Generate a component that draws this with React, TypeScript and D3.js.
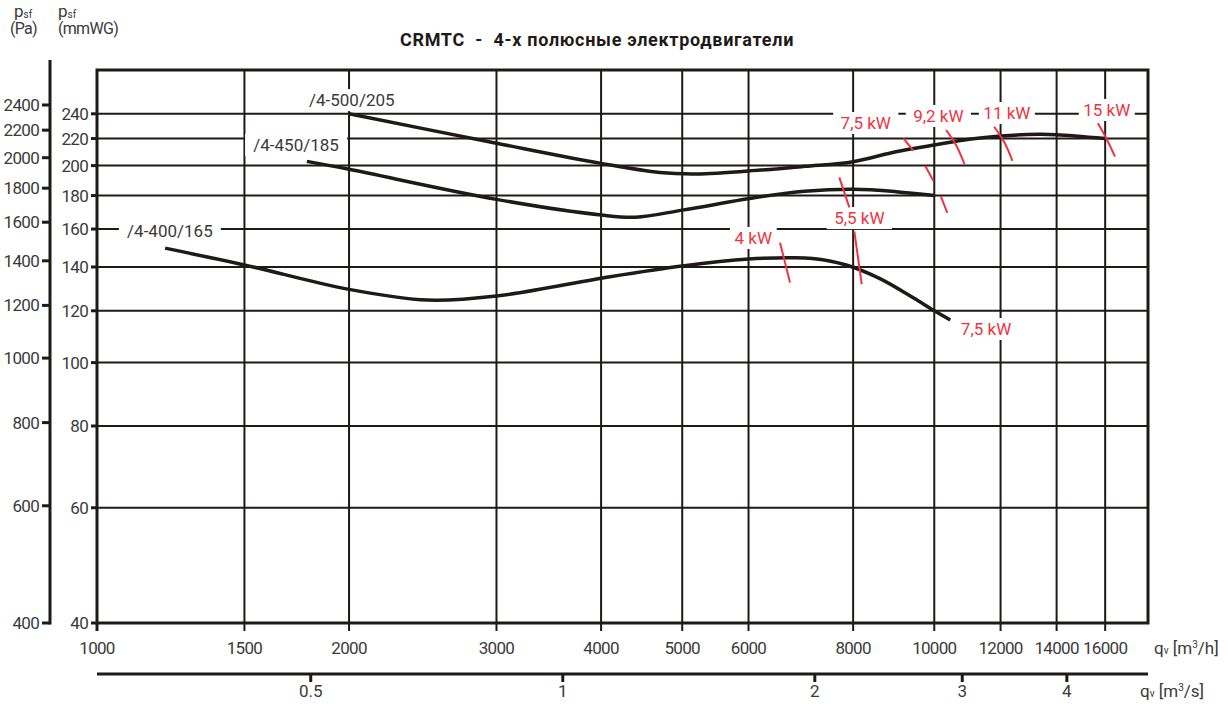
import React from "react";
import * as d3 from "d3";

const W = 1228;
const H = 704;

// axis ticks
const qTicks = [1000, 1500, 2000, 3000, 4000, 5000, 6000, 8000, 10000, 12000, 14000, 16000];
const qsTicks = [0.5, 1, 2, 3, 4];
const mmTicks = [40, 60, 80, 100, 120, 140, 160, 180, 200, 220, 240];
const paTicks = [400, 600, 800, 1000, 1200, 1400, 1600, 1800, 2000, 2200, 2400];

type Pt = [number, number]; // [m3/h, mmWG]

// fan curves
const curve400: Pt[] = [
    [1206, 149.6], [1500, 141], [2000, 129.4], [2480, 124.6], [3000, 126.4], [4100, 135.3],
    [5000, 140.5], [6000, 144], [6500, 144.5], [7150, 144.3], [7850, 141], [8600, 134.5],
    [9450, 125.5], [10000, 120], [10450, 116.2],
];
const curve450: Pt[] = [
    [1781, 203], [2000, 197.4], [3000, 177.6], [4000, 168.1], [4400, 166.8], [5000, 171],
    [6200, 179.2], [7000, 182.7], [8000, 184], [9000, 182.5], [10000, 180],
];
const curve500: Pt[] = [
    [2000, 240], [3000, 216.4], [4000, 201.6], [4700, 195.2], [5200, 194.2], [6200, 196.9],
    [7000, 199.5], [8000, 202.8], [9000, 210], [10000, 215], [11000, 219.4], [12000, 222],
    [13300, 223.3], [14000, 223], [16000, 220],
];

const curveNames = ["/4-400/165", "/4-450/185", "/4-500/205"];
const curveLabelPos: Pt[] = [[1222, 155.6], [1729, 210.6], [2015, 246.6]];

// motor power limits (red)
const powerLines: Pt[][] = [
    [[9185, 220.2], [9441, 210.8]],
    [[10330, 226.7], [10617, 215], [10865, 201.1]],
    [[11790, 229.3], [12120, 217.3], [12400, 203.4]],
    [[15680, 232.1], [16040, 220.4], [16440, 206.4]],
    [[9755, 199.7], [9975, 189.7]],
    [[10180, 179.7], [10366, 169.4]],
    [[7701, 191.9], [7917, 172.7]],
    [[8027, 158.5], [8192, 131.8]],
    [[6543, 152.5], [6726, 132.5]],
];
const powerNames = ["7,5 kW", "9,2 kW", "11 kW", "15 kW", "5,5 kW", "4 kW", "7,5 kW"];
const powerLabelPos: Pt[] = [
    [8283, 227.5], [10113, 233.2], [12210, 235.6], [16070, 238.2],
    [8138, 162.8], [6080, 151.8], [11530, 110.2],
];

const FONT = "Roboto, 'DejaVu Sans', sans-serif";
const INK = "#1e1a18";
const TXT = "#3a3a3a";
const RED = "#ee3440";

export default function App() {
    const x = d3.scaleLog().domain([1000, 18000]).range([97, 1148]);
    const xs = d3.scaleLog().domain([1000 / 3600, 18000 / 3600]).range([97, 1148]);
    const y = d3.scaleLog().domain([40, 280]).range([623, 70]);
    const yPa = d3.scaleLog().domain([400, 2400]).range([623, 105]);

    const line = d3.line<Pt>().x(d => x(d[0])).y(d => y(d[1])).curve(d3.curveCatmullRom.alpha(0.5));

    const labels = [
        ...curveNames.map((t, i) => ({ t, p: curveLabelPos[i], c: TXT })),
        ...powerNames.map((t, i) => ({ t, p: powerLabelPos[i], c: RED })),
    ];
    const fs = 17;
    const ls = -0.7;

    return (
        <svg width={W} height={H} style={{ position: "absolute", left: 0, top: 0, background: "#fff" }}
            fontFamily={FONT}>
            {/* header */}
            <text x={14} y={17} fontSize={17} fill={TXT}>p<tspan fontSize={10} dy={1}>sf</tspan></text>
            <text x={10} y={34} fontSize={16} fill={TXT} letterSpacing={ls}>(Pa)</text>
            <text x={58} y={17} fontSize={17} fill={TXT}>p<tspan fontSize={10} dy={1}>sf</tspan></text>
            <text x={58} y={34} fontSize={16} fill={TXT} letterSpacing={ls}>(mmWG)</text>
            <text x={597} y={46} fontSize={18} fontWeight="bold" textAnchor="middle" fill={INK}
                letterSpacing={0.7} style={{ whiteSpace: "pre" }}>{"CRMTC  -  4-х полюсные электродвигатели"}</text>

            {/* grid */}
            {mmTicks.slice(1).map(v => (
                <line key={"h" + v} x1={x(1000)} x2={x(18000)} y1={y(v)} y2={y(v)} stroke={INK} strokeWidth={2} />
            ))}
            {qTicks.slice(1).map(v => (
                <line key={"v" + v} x1={x(v)} x2={x(v)} y1={y(280)} y2={y(40) + 8} stroke={INK} strokeWidth={2} />
            ))}
            <rect x={x(1000)} y={y(280)} width={x(18000) - x(1000)} height={y(40) - y(280)}
                fill="none" stroke={INK} strokeWidth={3} />
            <line x1={x(1000)} x2={x(1000)} y1={y(40)} y2={y(40) + 8} stroke={INK} strokeWidth={3} />

            {/* mmWG axis labels */}
            {mmTicks.map(v => (
                <g key={"mm" + v}>
                    <line x1={x(1000) - 6} x2={x(1000)} y1={y(v)} y2={y(v)} stroke={INK} strokeWidth={3} />
                    <text x={88} y={y(v) + 6} fontSize={fs} textAnchor="end" fill={TXT} letterSpacing={ls}>{v}</text>
                </g>
            ))}

            {/* Pa axis */}
            <line x1={50} x2={50} y1={60} y2={yPa(400) + 1.5} stroke={INK} strokeWidth={3} />
            {paTicks.map(v => (
                <g key={"pa" + v}>
                    <line x1={42} x2={50} y1={yPa(v)} y2={yPa(v)} stroke={INK} strokeWidth={3} />
                    <text x={39} y={yPa(v) + 6} fontSize={fs} textAnchor="end" fill={TXT} letterSpacing={ls}>{v}</text>
                </g>
            ))}

            {/* m3/h labels */}
            {qTicks.map(v => (
                <text key={"q" + v} x={x(v)} y={654} fontSize={fs} textAnchor="middle" fill={TXT} letterSpacing={ls}>{v}</text>
            ))}
            <text x={1154} y={654} fontSize={fs} fill={TXT}>q<tspan fontSize={10}>v</tspan> [m<tspan fontSize={10} dy={-6}>3</tspan><tspan dy={6}>/h]</tspan></text>

            {/* m3/s axis */}
            <line x1={x(1000)} x2={x(18000)} y1={674} y2={674} stroke={INK} strokeWidth={3} />
            {qsTicks.map(v => (
                <g key={"qs" + v}>
                    <line x1={xs(v)} x2={xs(v)} y1={674} y2={682} stroke={INK} strokeWidth={3} />
                    <text x={xs(v)} y={697} fontSize={fs} textAnchor="middle" fill={TXT}>{v}</text>
                </g>
            ))}
            <text x={1140} y={697} fontSize={fs} fill={TXT}>q<tspan fontSize={10}>v</tspan> [m<tspan fontSize={10} dy={-6}>3</tspan><tspan dy={6}>/s]</tspan></text>

            {/* label backgrounds */}
            {labels.map((l, i) => {
                const w = l.t.length * 9.2 + 10;
                return <rect key={"bg" + i} x={x(l.p[0]) - w / 2} y={y(l.p[1]) - 17} width={w} height={22} fill="#fff" />;
            })}

            {/* curves */}
            {[curve400, curve450, curve500].map((c, i) => (
                <path key={"c" + i} d={line(c) || ""} fill="none" stroke={INK} strokeWidth={3.5} strokeLinecap="butt" />
            ))}
            {powerLines.map((c, i) => (
                <path key={"p" + i} d={line(c) || ""} fill="none" stroke={RED} strokeWidth={2} />
            ))}

            {labels.map((l, i) => (
                <text key={"lt" + i} x={x(l.p[0])} y={y(l.p[1])} fontSize={fs} textAnchor="middle" fill={l.c}>{l.t}</text>
            ))}
        </svg>
    );
}
